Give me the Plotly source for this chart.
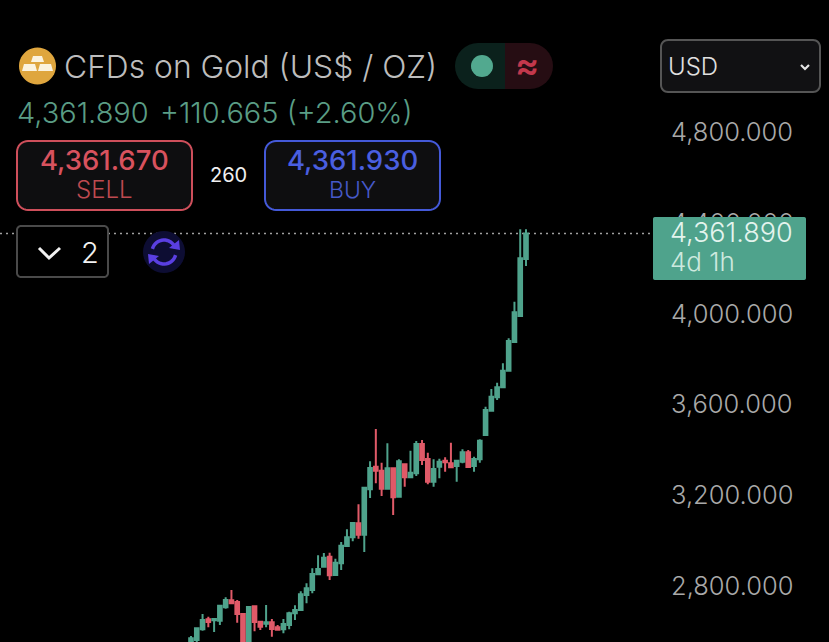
import math
import plotly.graph_objects as go

W, H = 829, 642

weeks = list(range(59))
opens = [2527, 2571.1, 2618.1, 2662.1, 2657.8, 2656.3, 2715, 2745.8, 2738.5, 2685.6,
         2527, 2719.4, 2651.9, 2643.1, 2649, 2626.9, 2618.1, 2637.2, 2688.6, 2703.3,
         2769.4, 2791.4, 2860.4, 2894.1, 2938.2, 2857.4, 2908.8, 2985.2, 3023.4, 3085,
         3035.1, 3234.8, 3334.6, 3317, 3237.7, 3327.3, 3202.5, 3345, 3287.6, 3305.3,
         3434.5, 3368.4, 3268.6, 3334.7, 3361.1, 3349.3, 3337.6, 3356.7, 3397.8, 3337.6,
         3367, 3474.1, 3581.3, 3640, 3684.1, 3757.5, 3883.8, 3998.3, 4249.4]
highs = [2589, 2627, 2685.6, 2673.9, 2663.6, 2725.3, 2759, 2791.4, 2747.3, 2685.6,
         2718, 2720.9, 2656.3, 2725.3, 2663.6, 2637.2, 2663.6, 2695.9, 2723.8, 2785.5,
         2820.7, 2886.8, 2944, 2954.4, 2955.8, 2929.4, 3002.8, 3058.6, 3088, 3168.7,
         3246.5, 3358.1, 3500.6, 3352.3, 3437.4, 3327.3, 3367, 3349.3, 3405.1, 3447.7,
         3452.1, 3396.3, 3367, 3369.9, 3375.8, 3440.4, 3364, 3411, 3408, 3378.7,
         3455, 3599, 3676.8, 3704.7, 3789.8, 3900, 4061.5, 4380, 4380]
lows = [2512, 2562.3, 2612.2, 2626.9, 2606.4, 2637.2, 2709.1, 2728.2, 2647.5, 2494.8,
        2512, 2609.3, 2615.2, 2626.9, 2585.8, 2612.2, 2600.5, 2618.1, 2659.2, 2703.3,
        2732.6, 2776.7, 2857.4, 2892.7, 2835.4, 2857.4, 2879.5, 2982.2, 3005.7, 3017.5,
        2958.7, 3196.6, 3261.2, 3205.4, 3237.7, 3121.7, 3202.5, 3246.6, 3287.6, 3293.6,
        3342, 3256.8, 3246.6, 3283.3, 3312.6, 3327.3, 3268.6, 3349.3, 3331.7, 3312.6,
        3352.3, 3471.2, 3581.3, 3628.3, 3684.1, 3757.5, 3883.8, 3998.3, 4218.6]
closes = [2578.5, 2622.5, 2659.2, 2650.4, 2663.6, 2722.4, 2747.3, 2732.6, 2685.6, 2512.4,
          2716.5, 2650.4, 2629.9, 2649, 2619.6, 2616.6, 2641.6, 2688.6, 2703.3, 2772.3,
          2798.7, 2861.8, 2883.9, 2933.8, 2856, 2911.8, 2986.6, 3023.4, 3086.5, 3035.1,
          3242.1, 3328.8, 3317, 3237.7, 3327.3, 3199.6, 3358.1, 3287.6, 3308.2, 3434.5,
          3364, 3268.6, 3324.4, 3356.7, 3353.7, 3331.7, 3361.1, 3397.8, 3333.2, 3368.4,
          3449.2, 3584.3, 3643, 3684.1, 3757.5, 3888.2, 4014.5, 4252.3, 4361.89]
price_ticks = [2800, 3200, 3600, 4000, 4400, 4800]
last_price = 4361.89

GREEN = "#4FA38C"
RED = "#E05A68"
FONT = "Inter"


def fx(x):
    return x / W


def fy(y):
    return 1 - y / H


def path(points, close=False):
    s = "M " + " L ".join(f"{fx(x):.5f},{fy(y):.5f}" for x, y in points)
    return s + (" Z" if close else "")


def rounded(x0, y0, x1, y1, r):
    pts = []
    for cx, cy, a0 in [(x1 - r, y0 + r, -90), (x1 - r, y1 - r, 0), (x0 + r, y1 - r, 90), (x0 + r, y0 + r, 180)]:
        for k in range(9):
            a = math.radians(a0 + k * 90 / 8)
            pts.append((cx + r * math.cos(a), cy + r * math.sin(a)))
    return path(pts, True)


def box(x0, y0, x1, y1, r, fill, line, lw=2):
    return dict(type="path", xref="paper", yref="paper", path=rounded(x0, y0, x1, y1, r),
                fillcolor=fill, line=dict(color=line, width=lw), layer="above")


def poly(points, fill=None, line=None, lw=2, close=False):
    d = dict(type="path", xref="paper", yref="paper", path=path(points, close), layer="above",
             line=dict(color=line or "rgba(0,0,0,0)", width=lw))
    if fill:
        d["fillcolor"] = fill
    return d


def ann(text, x, y, size, color, anchor="left", weight=400):
    return dict(text=text, x=fx(x), y=fy(y), xref="paper", yref="paper", xanchor=anchor, yanchor="middle",
                showarrow=False, font=dict(family=FONT, size=size, color=color, weight=weight))


def arc(cx, cy, r, a0, a1, n=16):
    return [(cx + r * math.cos(math.radians(a0 + (a1 - a0) * k / n)),
             cy + r * math.sin(math.radians(a0 + (a1 - a0) * k / n))) for k in range(n + 1)]


shapes = [
    dict(type="line", xref="paper", yref="y", x0=0, x1=fx(654), y0=last_price, y1=last_price,
         line=dict(color="#A0A0A0", width=1.5, dash="2px,4px"), layer="below"),
    # gold icon
    poly(arc(37.5, 66, 18.5, 0, 360, 40), fill="#DFA63E", line="#DFA63E", lw=0, close=True),
    poly([(33, 56), (42, 56), (44, 62), (31, 62)], fill="#FBF3DF", close=True),
    poly([(24, 64), (35, 64), (37, 71), (22, 71)], fill="#FBF3DF", close=True),
    poly([(40, 64), (51, 64), (53, 71), (38, 71)], fill="#FBF3DF", close=True),
    # status pill
    poly(arc(478, 66, 23, 90, 270) + [(505, 43), (505, 89)], fill="#0B211C", close=True),
    poly(arc(530, 66, 23, -90, 90) + [(505, 89), (505, 43)], fill="#260D13", close=True),
    poly(arc(482, 66, 11, 0, 360, 32), fill="#52A98F", close=True),
    # sell, buy
    box(17, 141, 192, 210, 11, "#0E0E10", "#CE4F5B"),
    box(265, 141, 440, 210, 11, "#0E0E10", "#4459D8"),
    # lots box
    box(17, 226, 108, 277, 4, "#000000", "#4A4A4A"),
    poly([(39, 248), (49, 258), (60, 248)], line="#F2F2F2", lw=3),
    # sync icon
    poly(arc(164, 252, 21, 0, 360, 40), fill="#0D0D33", close=True),
    poly(arc(164, 252, 12, 195, 340), line="#5A3FE2", lw=3.5),
    poly(arc(164, 252, 12, 15, 160), line="#5A3FE2", lw=3.5),
    poly([(169, 248), (180, 250), (179, 240)], fill="#5A3FE2", close=True),
    poly([(159, 256), (148, 254), (149, 264)], fill="#5A3FE2", close=True),
    # currency
    box(661, 40, 820, 92, 7, "#111113", "#555555"),
    poly([(801, 65), (805, 69), (809, 65)], line="#E4E4E4", lw=2.2),
    # price tag
    box(653, 217, 806, 280, 2, GREEN, GREEN, 0),
]

annotations = [
    ann("CFDs on Gold (US$ / OZ)", 62, 66, 31.8, "#BDBDBD", weight=300),
    ann("≈", 527, 65, 36, "#C2384C", "center", 600),
    ann("4,361.890", 15, 113, 29, "#5A9D85", weight=300),
    ann("+110.665 (+2.60%)", 158, 113, 29, "#5A9D85", weight=300),
    ann("4,361.670", 104, 160, 27.5, "#D8525E", "center", 500),
    ann("SELL", 104, 190, 24, "#BE4A50", "center", 300),
    ann("260", 228, 175, 20, "#F0F0F0", "center"),
    ann("4,361.930", 352, 160, 27.5, "#4A5FE0", "center", 500),
    ann("BUY", 352, 190, 23, "#4659C8", "center", 300),
    ann("2", 90, 252, 29, "#F2F2F2", "center", 300),
    ann("USD", 666, 66, 24, "#E0E0E0", weight=300),
    ann("4,361.890", 668, 232, 27, "#E4F4EE", weight=300),
    ann("4d 1h", 668, 262, 26, "#CDE9DF", weight=300),
]

fig = go.Figure(go.Candlestick(
    x=weeks, open=opens, high=highs, low=lows, close=closes,
    increasing=dict(line=dict(color=GREEN, width=2), fillcolor=GREEN),
    decreasing=dict(line=dict(color=RED, width=2), fillcolor=RED),
    whiskerwidth=0, hoverinfo="skip", showlegend=False,
))

fig.update_layout(
    width=W, height=H,
    margin=dict(l=0, r=0, t=0, b=0),
    paper_bgcolor="#000000", plot_bgcolor="#000000",
    boxgap=0.1,
    shapes=shapes, annotations=annotations,
    xaxis=dict(domain=[0, 660 / W], range=[-33.07, 81.2], visible=False,
               rangeslider=dict(visible=False), fixedrange=True),
    yaxis=dict(range=[2562.3, 5390.3], side="right", tickvals=price_ticks, tickformat=",.3f",
               showgrid=False, zeroline=False, showline=False, ticks="", ticklabelstandoff=10,
               ticklabelshift=-2,
               tickfont=dict(family=FONT, size=25.5, color="#A9A9A9", weight=300), fixedrange=True),
    font=dict(family=FONT),
)
fig.write_html("out.html", config={"displayModeBar": False},
               post_script="document.body.style.margin='0';document.body.style.background='#000';")
